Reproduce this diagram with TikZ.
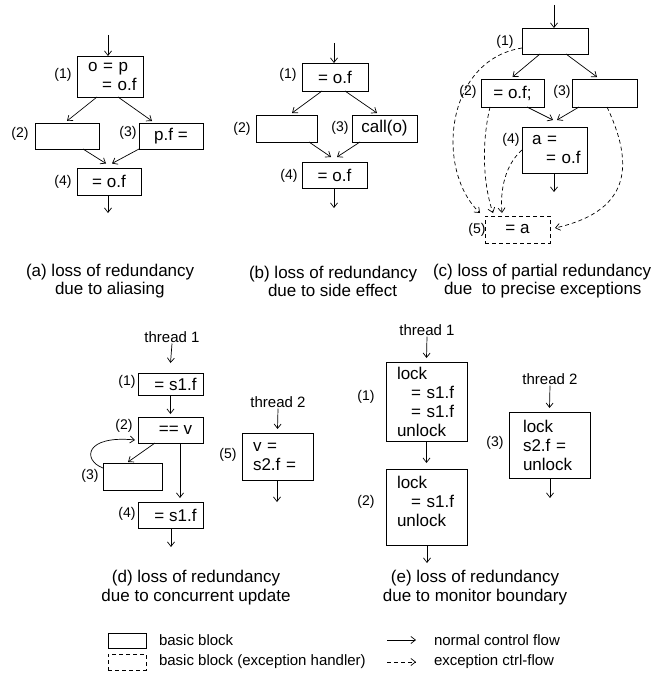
\documentclass[tikz,border=0pt]{standalone}
\usepackage{fontspec}
\setmainfont{Liberation Sans}
\usetikzlibrary{arrows.meta}
\begin{document}
\begin{tikzpicture}[x=1pt,y=-1pt,
  every node/.style={inner sep=0pt, outer sep=0pt},
  blk/.style={draw, line width=0.9pt, font=\fontsize{17}{19}\selectfont},
  xblk/.style={blk, dash pattern=on 4pt off 3pt},
  bx/.style n args={2}{minimum width=#1pt, minimum height=#2pt},
  num/.style={font=\fontsize{14}{16}\selectfont},
  thr/.style={font=\fontsize{15}{17}\selectfont, inner sep=1pt},
  captxt/.style={font=\fontsize{17}{18}\selectfont, anchor=west, align=left},
  captxtc/.style={font=\fontsize{17}{19}\selectfont, align=center},
  leg/.style={font=\fontsize{15}{18}\selectfont, anchor=west},
  arr/.style={line width=0.7pt, -{Straight Barb[length=4.5pt,width=7pt]}},
  xarr/.style={arr, dash pattern=on 4pt off 3pt},
]
\useasboundingbox (0,0) rectangle (653,677);

% ---------- (a) ----------
\node[blk, bx={66}{41}, text width=44pt, inner xsep=11pt, align=left] (a1) at (110,76.5) {\mbox{o = p}\\\mbox{\hspace*{14pt}= o.f}};
\node[blk, bx={64}{26}] (a2) at (67,136) {};
\node[blk, bx={64}{26}] (a3) at (171,136) {p.f =};
\node[blk, bx={64}{27}] (a4) at (109,181.5) {= o.f};
\node[num] (na1) at (63,75) {(1)};
\node[num] (na2) at (20,134) {(2)};
\node[num] (na3) at (128,133) {(3)};
\node[num] (na4) at (63,182) {(4)};
\coordinate (ain) at (108,35);
\coordinate (aout) at (108,213);
\draw[arr] (ain) -- (ain |- a1.north);
\draw[arr] ([xshift=-13pt]a1.south) -- ([yshift=2pt]a2.north);
\draw[arr] ([xshift=8pt]a1.south) -- ([xshift=-19pt,yshift=2pt]a3.north);
\draw[arr] ([xshift=16pt]a2.south) -- ([xshift=-3pt,yshift=4.5pt]a4.north);
\draw[arr] (a3.south west) -- ([xshift=3pt,yshift=4.5pt]a4.north);
\draw[arr] (aout |- a4.south) -- (aout);
\node[captxt] (capa) at (26,281) {(a) loss of redundancy\\\hspace*{29pt}due to aliasing};

% ---------- (b) ----------
\node[blk, bx={66}{28}] (b1) at (335,77) {= o.f};
\node[blk, bx={61}{27}] (b2) at (286.5,128.5) {};
\node[blk, bx={65}{27}] (b3) at (384.5,128.5) {call(o)};
\node[blk, bx={65}{26}] (b4) at (334.5,175) {= o.f};
\node[num] (nb1) at (288,75) {(1)};
\node[num] (nb2) at (242,129) {(2)};
\node[num] (nb3) at (340,128) {(3)};
\node[num] (nb4) at (289,176) {(4)};
\coordinate (bin) at (334,43);
\coordinate (bout) at (334,208);
\draw[arr] (bin) -- (bin |- b1.north);
\draw[arr] ([xshift=-13pt]b1.south) -- ([xshift=5.5pt,yshift=2pt]b2.north);
\draw[arr] ([xshift=10pt]b1.south) -- ([xshift=-7.5pt,yshift=2pt]b3.north);
\draw[arr] ([xshift=22.5pt]b2.south) -- ([xshift=-3.5pt,yshift=5pt]b4.north);
\draw[arr] ([xshift=-24.5pt]b3.south) -- ([xshift=2.5pt,yshift=5pt]b4.north);
\draw[arr] (bout |- b4.south) -- (bout);
\node[captxt] (capb) at (249,281) {(b) loss of redundancy\\\hspace*{19pt}due to side effect};

% ---------- (c) ----------
\node[blk, bx={66}{26}] (c1) at (555,41) {};
\node[blk, bx={63}{28}] (c2) at (512.5,93) {= o.f;};
\node[blk, bx={65}{28}] (c3) at (604.5,93) {};
\node[blk, bx={65}{46}, text width=45pt, inner xsep=10pt, align=left] (c4) at (554.5,150) {\mbox{a =}\\\mbox{\hspace*{14pt}= o.f}};
\node[xblk, bx={65}{27}] (c5) at (517.5,229.5) {= a};
\node[num] (nc1) at (505,42) {(1)};
\node[num] (nc2) at (468,92) {(2)};
\node[num] (nc3) at (562,92) {(3)};
\node[num] (nc4) at (511,140) {(4)};
\node[num] (nc5) at (477,230) {(5)};
\coordinate (cin) at (554,5);
\coordinate (cout) at (554,192);
\draw[arr] (cin) -- (cin |- c1.north);
\draw[arr] ([xshift=-15pt]c1.south) -- ([yshift=2pt]c2.north);
\draw[arr] ([xshift=11pt]c1.south) -- ([xshift=-7.5pt,yshift=2pt]c3.north);
\draw[arr] ([xshift=14.5pt]c2.south) -- ([xshift=-1.5pt,yshift=7pt]c4.north);
\draw[arr] ([xshift=-25.5pt]c3.south) -- ([xshift=2.5pt,yshift=7pt]c4.north);
\draw[arr] (cout |- c4.south) -- (cout);
\draw[xarr] ([yshift=-7pt]c1.west) .. controls +(-77,12) and +(-45,-43) .. ([xshift=-5pt,yshift=3pt]c5.north west);
\draw[xarr] ([xshift=-22.5pt]c2.south) .. controls +(-10,43) and +(-8,-23) .. ([xshift=-24.5pt,yshift=3pt]c5.north);
\draw[xarr] (c4.west) .. controls +(-17,15) and +(-2,-23) .. ([xshift=-15.5pt,yshift=3pt]c5.north);
\draw[xarr] ([xshift=2.5pt]c3.south) .. controls +(25,53) and +(80,-18) .. ([xshift=5pt,yshift=1.5pt]c5.east);
\node[captxt] (capc) at (433,281) {(c) loss of partial redundancy\\\hspace*{11pt}due~ to precise exceptions};

% ---------- (d) ----------
\node[thr] (td1) at (172,337) {thread 1};
\node[blk, bx={65}{22}] (d1) at (170.5,384) {\hspace*{10pt}= s1.f};
\node[blk, bx={65}{26}] (d2) at (170.5,430) {\hspace*{10pt}== v};
\node[blk, bx={59}{27}] (d3) at (132.5,476.5) {};
\node[blk, bx={65}{26}] (d4) at (170.5,515) {\hspace*{10pt}= s1.f};
\node[num] (nd1) at (127,382) {(1)};
\node[num] (nd2) at (124,426) {(2)};
\node[num] (nd3) at (90,476) {(3)};
\node[num] (nd4) at (127,514) {(4)};
\node[thr] (td2) at (278,402) {thread 2};
\node[blk, bx={71}{47}, text width=49pt, inner xsep=11pt, align=left] (d5) at (277.5,456.5) {v =\\s2.f =};
\node[num] (nd5) at (228,455) {(5)};
\coordinate (dout) at (171,547);
\coordinate (d5out) at (277,502);
\draw[arr] (td1.south) -- ([yshift=10pt]d1.north);
\draw[arr] (d1.south) -- ([yshift=3pt]d2.north);
\draw[arr] ([xshift=-15.5pt]d2.south) -- ([xshift=-4.5pt,yshift=1pt]d3.north);
\draw[arr] ([yshift=8.5pt]d3.west) .. controls +(-21,-8) and +(-50,-5) .. ([xshift=-3pt,yshift=-10pt]d2.west);
\draw[arr] ([xshift=9.5pt]d2.south) -- ([xshift=9.5pt,yshift=4pt]d4.north);
\draw[arr] (dout |- d4.south) -- (dout);
\draw[arr] (td2.south) -- ([yshift=4pt]d5.north);
\draw[arr] (d5out |- d5.south) -- (d5out);
\node[captxtc] (capd) at (196,587.5) {(d) loss of redundancy\\due to concurrent update};

% ---------- (e) ----------
\node[thr] (te1) at (427,330) {thread 1};
\node[blk, bx={81}{79}, text width=59pt, inner xsep=11pt, align=left] (e1) at (426.5,401.5) {lock\\\mbox{\hspace*{14pt}= s1.f}\\\mbox{\hspace*{14pt}= s1.f}\\unlock};
\node[blk, bx={81}{76}, text width=59pt, inner xsep=11pt, align=left] (e2) at (426.5,507) {lock\\\mbox{\hspace*{14pt}= s1.f}\\unlock\\[-8pt]\mbox{}};
\node[thr] (te2) at (550,379) {thread 2};
\node[blk, bx={81}{66}, text width=53pt, inner xsep=14pt, align=left] (e3) at (549.5,445) {lock\\s2.f =\\unlock};
\node[num] (ne1) at (366,397) {(1)};
\node[num] (ne2) at (366,502) {(2)};
\node[num] (ne3) at (495,443) {(3)};
\coordinate (eout) at (427,563);
\coordinate (e3out) at (550,498);
\draw[arr] (te1.south) -- ([yshift=4pt]e1.north);
\draw[arr] (e1.south) -- ([yshift=6pt]e2.north);
\draw[arr] (eout |- e2.south) -- (eout);
\draw[arr] (te2.south) -- ([yshift=4pt]e3.north);
\draw[arr] (e3out |- e3.south) -- (e3out);
\node[captxtc] (cape) at (475,587.5) {(e) loss of redundancy\\due to monitor boundary};

% ---------- legend ----------
\node[draw, line width=0.9pt, bx={38}{15}] (lg1) at (127,641) {};
\node[draw, line width=0.9pt, dash pattern=on 4pt off 3pt, bx={38}{16}] (lg2) at (127,662) {};
\node[leg] (lgt1) at (159,640) {basic block};
\node[leg] (lgt2) at (159,662) {basic block (exception handler)};
\coordinate (la1s) at (387,640);
\coordinate (la1e) at (416,640);
\coordinate (la2s) at (387,662);
\coordinate (la2e) at (416,662);
\draw[arr] (la1s) -- (la1e);
\draw[xarr] (la2s) -- (la2e);
\node[leg] (lgt3) at (434,640) {normal control flow};
\node[leg] (lgt4) at (434,662) {exception ctrl-flow};
\end{tikzpicture}
\end{document}
